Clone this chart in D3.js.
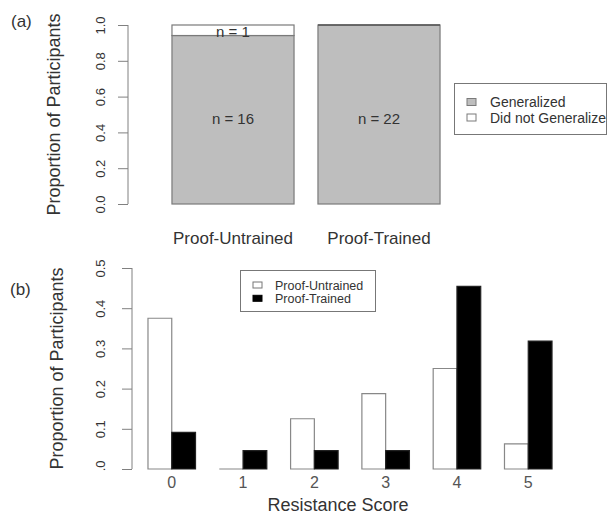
<!DOCTYPE html>
<head>
  <meta charset="utf-8" />
  <script src="https://d3js.org/d3.v7.min.js"></script>
  <style>
    body { margin: 0; background: #fff; }
    svg { font-family: "Liberation Sans", Arial, sans-serif; }
  </style>
</head>
<body>
  <script>
    // panel (a) data
    var groupsA = ["Proof-Untrained", "Proof-Trained"];
    var generalized = [16, 22];
    var notGeneralized = [1, 0];
    var ticksA = [0, 0.2, 0.4, 0.6, 0.8, 1.0];

    // panel (b) data
    var scores = [0, 1, 2, 3, 4, 5];
    var seriesB = ["Proof-Untrained", "Proof-Trained"];
    var untrained = [0.375, 0, 0.125, 0.1875, 0.25, 0.0625];
    var trained = [0.0909, 0.0455, 0.0455, 0.0455, 0.4545, 0.3182];
    var ticksB = [0, 0.1, 0.2, 0.3, 0.4, 0.5];

    var width = 607, height = 514;
    var txt = "#333", axisCol = "#808080", barStroke = "#7a7a7a";
    var fmt = d3.format(".1f");

    var svg = d3.select("body").append("svg")
      .attr("width", width).attr("height", height);

    // ---------- (a) ----------
    var ga = svg.append("g");
    var xa = d3.scaleBand().domain(groupsA).range([160, 452])
      .paddingInner(0.164).paddingOuter(0.082);
    var ya = d3.scaleLinear().domain([0, 1]).range([204, 25]);

    var propA = groupsA.map(function (g, i) {
      var tot = generalized[i] + notGeneralized[i];
      return { name: g, gen: generalized[i] / tot, n1: generalized[i], n2: notGeneralized[i] };
    });

    // generalized (grey) part
    ga.selectAll("rect.gen").data(propA).join("rect")
      .attr("x", function (d) { return xa(d.name); })
      .attr("width", xa.bandwidth())
      .attr("y", function (d) { return ya(d.gen); })
      .attr("height", function (d) { return ya(0) - ya(d.gen); })
      .attr("fill", "#bebebe").attr("stroke", barStroke).attr("stroke-width", 1.2);
    // did not generalize (white) part
    ga.selectAll("rect.not").data(propA.filter(function (d) { return d.n2 > 0; })).join("rect")
      .attr("x", function (d) { return xa(d.name); })
      .attr("width", xa.bandwidth())
      .attr("y", ya(1))
      .attr("height", function (d) { return ya(d.gen) - ya(1); })
      .attr("fill", "#fff").attr("stroke", barStroke).attr("stroke-width", 1.2);
    // top line of fully generalized bars
    ga.selectAll("line.top").data(propA.filter(function (d) { return d.n2 === 0; })).join("line")
      .attr("x1", function (d) { return xa(d.name); })
      .attr("x2", function (d) { return xa(d.name) + xa.bandwidth(); })
      .attr("y1", ya(1)).attr("y2", ya(1))
      .attr("stroke", "#555").attr("stroke-width", 1.5);

    // n labels
    ga.selectAll("text.n1").data(propA).join("text")
      .attr("x", function (d) { return xa(d.name) + xa.bandwidth() / 2; })
      .attr("y", ya(0.448))
      .attr("text-anchor", "middle").attr("font-size", 15).attr("fill", txt)
      .text(function (d) { return "n = " + d.n1; });
    ga.selectAll("text.n2").data(propA.filter(function (d) { return d.n2 > 0; })).join("text")
      .attr("x", function (d) { return xa(d.name) + xa.bandwidth() / 2; })
      .attr("y", ya(0.933))
      .attr("text-anchor", "middle").attr("font-size", 15).attr("fill", txt)
      .text(function (d) { return "n = " + d.n2; });

    // y axis (a)
    var axA = ga.append("g").attr("transform", "translate(128,0)")
      .call(d3.axisLeft(ya).tickValues(ticksA).tickSize(10).tickFormat(fmt));
    axA.select(".domain").attr("stroke", axisCol).attr("d", "M0," + ya(0) + "V" + ya(1));
    axA.selectAll(".tick line").attr("stroke", axisCol);
    axA.selectAll(".tick text")
      .attr("transform", "rotate(-90)").attr("x", 0).attr("y", -28)
      .attr("dy", "0.35em").attr("text-anchor", "middle")
      .attr("font-size", 13).attr("fill", txt).attr("font-family", null);

    // category labels
    ga.selectAll("text.cat").data(groupsA).join("text")
      .attr("x", function (d) { return xa(d) + xa.bandwidth() / 2; })
      .attr("y", 244)
      .attr("text-anchor", "middle").attr("font-size", 17).attr("fill", txt)
      .text(function (d) { return d; });

    ga.append("text").attr("transform", "translate(60,114.5) rotate(-90)")
      .attr("text-anchor", "middle").attr("font-size", 18).attr("fill", txt)
      .text("Proportion of Participants");
    ga.append("text").attr("x", 11).attr("y", 26.5)
      .attr("font-size", 17).attr("fill", txt).text("(a)");

    // legend (a)
    var la = ga.append("g");
    la.append("rect").attr("x", 454.5).attr("y", 83.5).attr("width", 152).attr("height", 51)
      .attr("fill", "#fff").attr("stroke", "#777");
    var legA = [{ label: "Generalized", fill: "#bebebe" }, { label: "Did not Generalize", fill: "#fff" }];
    la.selectAll("rect.k").data(legA).join("rect")
      .attr("x", 467).attr("y", function (d, i) { return 98.5 + i * 15.5; })
      .attr("width", 9).attr("height", 7)
      .attr("fill", function (d) { return d.fill; }).attr("stroke", barStroke);
    la.selectAll("text.k").data(legA).join("text")
      .attr("x", 490).attr("y", function (d, i) { return 107 + i * 15.5; })
      .attr("font-size", 14).attr("fill", txt)
      .text(function (d) { return d.label; });

    // ---------- (b) ----------
    var gb = svg.append("g");
    var x0 = d3.scaleBand().domain(scores).range([136.1, 563.9])
      .paddingInner(1 / 3).paddingOuter(1 / 6);
    var x1 = d3.scaleBand().domain(seriesB).range([0, x0.bandwidth()]);
    var yb = d3.scaleLinear().domain([0, 0.5]).range([469, 268]);

    var rows = [];
    scores.forEach(function (s, i) {
      rows.push({ score: s, series: seriesB[0], v: untrained[i] });
      rows.push({ score: s, series: seriesB[1], v: trained[i] });
    });

    gb.selectAll("path.bar").data(rows).join("path")
      .attr("d", function (d) {
        var xl = x0(d.score) + x1(d.series), xr = xl + x1.bandwidth();
        return "M" + xl + "," + yb(0) + "V" + yb(d.v) + "H" + xr + "V" + yb(0) + "Z";
      })
      .attr("fill", function (d) { return d.series === seriesB[0] ? "#fff" : "#000"; })
      .attr("stroke", function (d) { return d.series === seriesB[0] ? "#888" : "#222"; })
      .attr("stroke-width", 1.2);

    // y axis (b); the lowest label is cut off in the original
    var axB = gb.append("g").attr("transform", "translate(132,0)")
      .call(d3.axisLeft(yb).tickValues(ticksB).tickSize(10).tickFormat(fmt));
    axB.append("clipPath").attr("id", "clipB").append("rect")
      .attr("x", -60).attr("y", -20).attr("width", 62).attr("height", 21);
    axB.select(".domain").attr("stroke", axisCol).attr("d", "M0," + yb(0) + "V" + yb(0.5));
    axB.selectAll(".tick line").attr("stroke", axisCol);
    axB.selectAll(".tick text")
      .attr("transform", "rotate(-90)").attr("x", 0).attr("y", -32)
      .attr("dy", "0.35em").attr("text-anchor", "middle")
      .attr("font-size", 13).attr("fill", txt).attr("font-family", null);
    axB.selectAll(".tick").filter(function (d) { return d === 0; })
      .attr("clip-path", "url(#clipB)");

    // x tick labels
    gb.selectAll("text.sc").data(scores).join("text")
      .attr("x", function (d) { return x0(d) + x0.bandwidth() / 2; })
      .attr("y", 488)
      .attr("text-anchor", "middle").attr("font-size", 16).attr("fill", "#555")
      .text(function (d) { return d; });

    gb.append("text").attr("x", 338).attr("y", 511)
      .attr("text-anchor", "middle").attr("font-size", 18).attr("fill", txt)
      .text("Resistance Score");
    gb.append("text").attr("transform", "translate(63,368.5) rotate(-90)")
      .attr("text-anchor", "middle").attr("font-size", 18).attr("fill", txt)
      .text("Proportion of Participants");
    gb.append("text").attr("x", 10).attr("y", 294.5)
      .attr("font-size", 17).attr("fill", txt).text("(b)");

    // legend (b)
    var lb = gb.append("g");
    lb.append("rect").attr("x", 240.5).attr("y", 270.5).attr("width", 135).attr("height", 41)
      .attr("fill", "#fff").attr("stroke", "#777");
    lb.selectAll("rect.k").data(seriesB).join("rect")
      .attr("x", 253).attr("y", function (d, i) { return 282 + i * 13.3; })
      .attr("width", 9).attr("height", 6)
      .attr("fill", function (d, i) { return i ? "#000" : "#fff"; })
      .attr("stroke", function (d, i) { return i ? "#000" : "#777"; });
    lb.selectAll("text.k").data(seriesB).join("text")
      .attr("x", 275).attr("y", function (d, i) { return 290 + i * 13.3; })
      .attr("font-size", 12.5).attr("fill", txt)
      .text(function (d) { return d; });
  </script>
</body>
